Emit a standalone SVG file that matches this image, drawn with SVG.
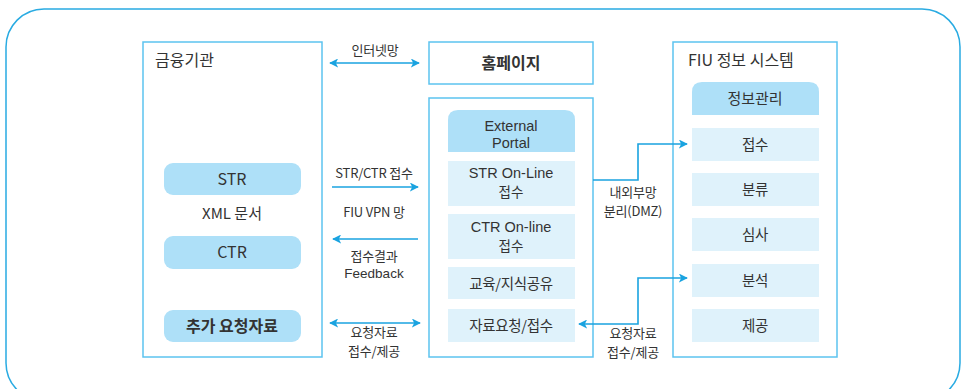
<svg xmlns="http://www.w3.org/2000/svg" width="966" height="389" viewBox="0 0 966 389">
<style>
text{font-family:"Noto Sans CJK KR","Noto Sans",sans-serif;fill:#333;text-anchor:middle}
.lat{font-family:"Liberation Sans","Noto Sans CJK KR",sans-serif}
.box{fill:#fff;stroke:#5cc3ef;stroke-width:1.5}
.pill{fill:#aee0f8}
.item{fill:#dff2fb}
.hd{fill:#aee0f8}
.t16{font-size:16px}
.t15{font-size:15px}
.t14{font-size:14.5px;letter-spacing:-0.3px}
.t13{font-size:13px;letter-spacing:-0.2px}
.ln{fill:none;stroke:#1aa3e0;stroke-width:1.6}
</style>
<defs>
<marker id="ah" viewBox="0 0 10 10" refX="9" refY="5" markerWidth="9" markerHeight="9" markerUnits="userSpaceOnUse" orient="auto-start-reverse">
<path d="M0,0 L10,5 L0,10 L2.5,5 Z" fill="#1aa3e0"/>
</marker>
</defs>
<rect x="6" y="9" width="954" height="392" rx="38" fill="none" stroke="#29abe2" stroke-width="1.5"/>

<g id="fi">
<rect class="box" x="143" y="42" width="179" height="315"/>
<text class="t16" x="155" y="66" style="text-anchor:start">금융기관</text>
<rect class="pill" x="164" y="163" width="137" height="32" rx="9"/>
<text class="t16" x="232" y="185">STR</text>
<text class="t15" x="232" y="219">XML 문서</text>
<rect class="pill" x="164" y="236" width="137" height="33" rx="9"/>
<text class="t16" x="232" y="258">CTR</text>
<rect class="pill" x="164" y="310" width="137" height="32" rx="9"/>
<text class="t16" x="232" y="332" font-weight="bold">추가 요청자료</text>
</g>

<g id="homepage">
<rect class="box" x="429" y="42" width="164" height="42"/>
<text class="t16" x="511" y="69" font-weight="bold">홈페이지</text>
</g>

<g id="portal">
<rect class="box" x="429" y="98" width="164" height="259"/>
<path class="hd" d="M448,152 V120 Q448,110 458,110 H565 Q575,110 575,120 V152 Z"/>
<text class="lat" x="511" y="131" style="font-size:14.5px">External</text>
<text class="lat" x="511" y="147.5" style="font-size:14.5px">Portal</text>
<rect class="item" x="448" y="161" width="127" height="45"/>
<text class="lat" x="511" y="178" style="font-size:14.5px">STR On-Line</text>
<text style="font-size:13.5px" x="511" y="197">접수</text>
<rect class="item" x="448" y="214" width="127" height="45"/>
<text class="lat" x="511" y="232" style="font-size:14.5px">CTR On-line</text>
<text style="font-size:13.5px" x="511" y="251">접수</text>
<rect class="item" x="448" y="267" width="127" height="32"/>
<text class="t14" x="511" y="289">교육/지식공유</text>
<rect class="item" x="448" y="309" width="127" height="33"/>
<text class="t14" x="511" y="331">자료요청/접수</text>
</g>

<g id="fiu">
<rect class="box" x="673" y="42" width="164" height="315"/>
<text class="t16" x="688" y="66" style="text-anchor:start">FIU 정보 시스템</text>
<path class="hd" d="M692,115 V92 Q692,82 702,82 H809 Q819,82 819,92 V115 Z"/>
<text class="t15" x="755" y="104">정보관리</text>
<rect class="item" x="692" y="128" width="127" height="33"/>
<text class="t14" x="755" y="150">접수</text>
<rect class="item" x="692" y="173" width="127" height="33"/>
<text class="t14" x="755" y="195">분류</text>
<rect class="item" x="692" y="218" width="127" height="33"/>
<text class="t14" x="755" y="240">심사</text>
<rect class="item" x="692" y="264" width="127" height="33"/>
<text class="t14" x="755" y="286">분석</text>
<rect class="item" x="692" y="309" width="127" height="33"/>
<text class="t14" x="755" y="331">제공</text>
</g>

<g id="connectors">
<line class="ln" x1="330" y1="63" x2="419" y2="63" marker-start="url(#ah)" marker-end="url(#ah)"/>
<text class="t13" x="375" y="55">인터넷망</text>
<line class="ln" x1="332" y1="187" x2="418" y2="187" marker-end="url(#ah)"/>
<text class="t13" x="374" y="178">STR/CTR 접수</text>
<text class="t13" x="374" y="217">FIU VPN 망</text>
<line class="ln" x1="418" y1="239" x2="333" y2="239" marker-end="url(#ah)"/>
<text class="t13" x="374" y="261">접수결과</text>
<text class="lat" x="374" y="278" style="font-size:13.5px">Feedback</text>
<line class="ln" x1="330" y1="323" x2="420" y2="323" marker-start="url(#ah)" marker-end="url(#ah)"/>
<text class="t13" x="374" y="337">요청자료</text>
<text class="t13" x="374" y="356">접수/제공</text>
<polyline class="ln" points="593,180 638,180 638,144 687,144" marker-end="url(#ah)"/>
<text class="t13" x="633" y="197">내외부망</text>
<text class="t13" x="633" y="216">분리(DMZ)</text>
<polyline class="ln" points="579,324 638,324 638,278 687,278" marker-start="url(#ah)" marker-end="url(#ah)"/>
<text class="t13" x="633" y="338">요청자료</text>
<text class="t13" x="633" y="357">접수/제공</text>
</g>
</svg>
